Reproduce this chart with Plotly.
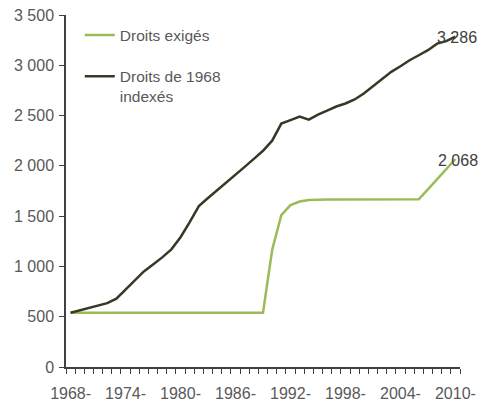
import plotly.graph_objects as go

years = list(range(1968, 2011))
categories = [f"{y}-{y+1}" for y in years]

droits_exiges = [540] * 22 + [1163, 1511, 1610, 1645, 1660, 1665, 1665, 1665, 1665, 1665,
                              1665, 1665, 1665, 1665, 1665, 1665, 1667, 1767, 1867, 1967, 2068]

droits_1968_indexes = [540, 565, 590, 610, 635, 680, 770, 860, 950, 1020,
                       1090, 1170, 1290, 1440, 1600, 1680, 1760, 1840, 1915, 1990,
                       2070, 2150, 2250, 2420, 2455, 2490, 2460, 2510, 2550, 2590,
                       2620, 2660, 2720, 2790, 2860, 2935, 2990, 3050, 3100, 3150,
                       3215, 3240, 3286]

label_idx = list(range(0, len(categories), 6))
tick_text = [f"{years[i]}-<br>{years[i]+1}" for i in label_idx]

x = list(range(len(categories)))

GREEN = "#9bbb59"
DARK = "#3b3726"
TXT = "#595959"
FONT = "Liberation Sans, Arial"

fig = go.Figure()
fig.add_trace(go.Scatter(x=x, y=droits_exiges, mode="lines", name="Droits exigés",
                         line=dict(color=GREEN, width=2.5), legendgroup="a",
                         customdata=categories))
fig.add_trace(go.Scatter(x=x, y=droits_1968_indexes, mode="lines",
                         name="Droits de 1968<br>indexés",
                         line=dict(color=DARK, width=2.5), legendgroup="b",
                         customdata=categories))

fig.add_annotation(x=x[-1], y=droits_1968_indexes[-1], text="3 286", showarrow=False,
                   xanchor="center", yanchor="middle", xshift=2, yshift=-1,
                   font=dict(family=FONT, size=16, color="#404040"))
fig.add_annotation(x=x[-1], y=droits_exiges[-1], text="2 068", showarrow=False,
                   xanchor="center", yanchor="middle", xshift=3, yshift=-1,
                   font=dict(family=FONT, size=16, color="#404040"))

fig.update_layout(
    width=483, height=407,
    margin=dict(l=66, r=23, t=15, b=40),
    paper_bgcolor="white", plot_bgcolor="white",
    separators=", ",
    font=dict(family=FONT, size=16, color=TXT),
    showlegend=True,
    legend=dict(x=0.035, y=0.99, xanchor="left", yanchor="top",
                bgcolor="rgba(0,0,0,0)", valign="top", tracegroupgap=18,
                traceorder="grouped",
                font=dict(family=FONT, size=15.5, color=TXT)),
    xaxis=dict(range=[-0.5, len(categories) - 0.5], tickmode="array",
               tickvals=label_idx, ticktext=tick_text, ticks="",
               automargin=False, ticklabelstandoff=11,
               showgrid=False, zeroline=False, showline=True,
               linecolor="#404040", linewidth=1.5,
               minor=dict(ticks="outside", tick0=0.5, dtick=1, ticklen=5,
                          tickcolor="#404040", tickwidth=1, showgrid=False),
               tickfont=dict(size=16, color=TXT)),
    yaxis=dict(range=[0, 3500], tickmode="linear", tick0=0, dtick=500,
               tickformat=",d", ticks="outside", ticklen=5, tickcolor="#404040",
               automargin=False, ticklabelstandoff=2,
               showgrid=False, zeroline=False, showline=True,
               linecolor="#404040", linewidth=1.5,
               tickfont=dict(size=16, color=TXT)),
)

fig.write_html("out.html")
